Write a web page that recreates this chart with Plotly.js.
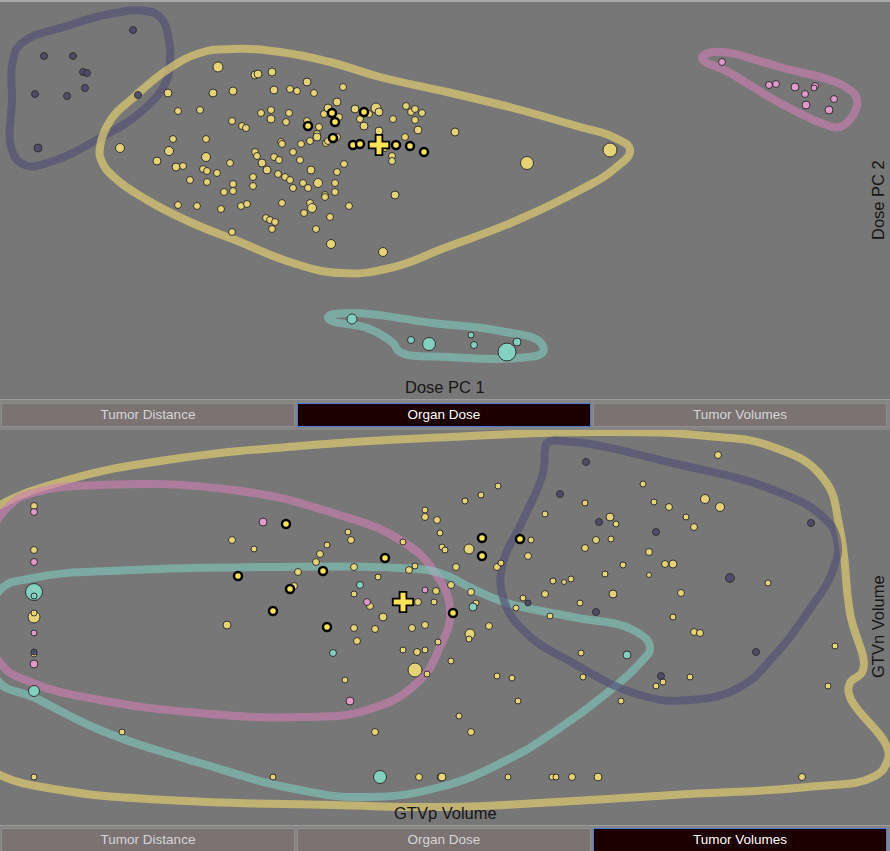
<!DOCTYPE html>
<html><head><meta charset="utf-8">
<script src="https://cdn.plot.ly/plotly-3.0.1.min.js"></script>
<style>
body{margin:0;background:#777;width:890px;height:851px;position:relative;overflow:hidden;font-family:"Liberation Sans",Arial,sans-serif}
#topline{position:absolute;left:0;top:0;width:890px;height:2px;background:#a8a8a8}
#p1{position:absolute;left:0;top:2px;width:890px;height:397px}
#p2{position:absolute;left:0;top:430px;width:890px;height:395px}
.row{position:absolute;left:0;width:890px;background:#858585;border-top:1px solid #9c9c9c;box-sizing:border-box}
.btn{position:absolute;width:292px;height:22px;line-height:22px;text-align:center;font-size:13.5px;color:#d6d6d6;background:#7b7272;border:1px solid #948d8d}
.btn.sel{background:#1c0000;color:#ffffff;border:1px solid #4a7ad8}
</style></head>
<body>
<div id="topline"></div>
<div id="p1"></div>
<div class="row" style="top:399px;height:31px">
  <div class="btn" style="left:1px;top:3px">Tumor Distance</div>
  <div class="btn sel" style="left:297px;top:3px">Organ Dose</div>
  <div class="btn" style="left:593px;top:3px">Tumor Volumes</div>
</div>
<div id="p2"></div>
<div class="row" style="top:825px;height:26px">
  <div class="btn" style="left:1px;top:2px">Tumor Distance</div>
  <div class="btn" style="left:297px;top:2px">Organ Dose</div>
  <div class="btn sel" style="left:593px;top:2px">Tumor Volumes</div>
</div>
<script>
// ---------- Panel 1: Dose PC 1 vs Dose PC 2 ----------
const doseYellowX = [218,168,213,233,255,258,272,274,178,200, 232,242,246,261,271,271,120,173,206,169, 206,157,176,183,203,207,217,230,255,257, 262,253,253,267,274,279,278,190,207,233, 233,224,
  307,290,297,314,343,337,289,286,307,319, 324,328,339,355,369,376,379,360,364,379, 393,406,411,415,422,415,418,405,455,317, 317,337,326,328,310,301,281,282,293,300, 385,392,392,527,610,344,337,311,285,290, 293,303,308,318,335,335,325,325,395,349, 282,310,312,304,330,316,331,383,
  178,197,221,241,247,266,270,275,272,232];
const doseYellowY = [67,93,93,91,75,74,72,90,111,110, 121,126,128,113,110,119,148,139,139,151, 157,161,167,166,169,171,173,163,152,156, 163,177,186,170,157,160,174,180,182,184, 191,192,
  82,89,91,93,87,102,113,122,121,127, 114,108,117,109,114,108,112,119,126,131, 119,106,112,109,113,120,130,137,132,134, 137,137,143,141,141,144,142,144,152,160, 149,156,161,163,150,164,172,170,177,180, 188,183,188,183,183,192,195,197,195,206, 203,203,208,213,217,229,244,252,
  205,206,209,206,204,218,220,222,229,232];
const doseYellowVol = [10,8,8,8,8,8,8,8,7,7, 7,7,7,7,7,8,9,7,7,9, 9,8,8,7,7,7,7,7,7,7, 8,7,7,8,7,7,7,7,7,7, 7,7,
  8,7,7,7,7,8,7,7,7,7, 7,8,7,8,7,10,8,7,8,8, 7,7,7,7,7,7,8,7,8,7, 8,7,7,7,7,7,7,7,7,7, 5,7,7,13,14,7,7,8,7,7, 7,7,7,9,7,7,7,7,8,7, 7,7,9,7,7,7,9,9,
  7,7,7,7,7,7,7,7,7,7];
const doseHighX = [308,332,335,364,333,353,360,396,410,424];
const doseHighY = [126,113,122,112,138,145,144,145,146,152];
const doseCenterX = [379], doseCenterY = [145];
const doseDarkX = [133,44,73,83,87,85,35,67,138,38];
const doseDarkY = [30,56,56,72,73,88,94,96,95,148];
const doseDarkVol = [7,7,7,7,7,7,7,7,7,8];
const dosePinkX = [722,769,776,795,805,815,814,806,829,834];
const dosePinkY = [62,85,84,87,94,86,88,105,110,99];
const dosePinkVol = [7,7,7,8,7,7,6,8,8,7];
const doseTealX = [352,411,429,471,474,507,517];
const doseTealY = [319,340,344,335,345,352,342];
const doseTealVol = [10,7,13,6,7,18,8];
// cluster outlines (Dose PC space)
const doseHullDarkX = [13,22,67,110,145,160,169,170,166,143,100,50,25,12,12];
const doseHullDarkY = [60,43,26,14,11,17,40,60,82,110,138,162,165,150,100];
const doseHullYellowX = [100,112,133,167,200,233,280,330,380,447,513,580,613,630,613,580,513,447,390,340,290,240,190,147,115,102];
const doseHullYellowY = [147,118,98,70,53,49,52,62,77,92,108,127,137,150,170,190,222,247,268,273,262,242,222,200,178,162];
const doseHullPinkX = [702,713,780,847,857,853,840,827,780,730];
const doseHullPinkY = [58,52,67,88,100,115,127,125,103,73];
const doseHullTealX = [328,350,433,500,540,543,517,450,400,393,367,332];
const doseHullTealY = [317,313,323,331,342,352,358,357,352,343,328,321];

// ---------- Panel 2: GTVp Volume vs GTVn Volume ----------
const volYellowX = [34,34,34,34,34,34,34,
  232,254,298,294,227,316,320,327,348,351, 354,354,370,378,383,354,375,357,345,375, 122,273,419,441,418,434,436,412,425,438, 403,417,425,415,427,403,409,415,425,425, 437,440,442,445,
  718,498,481,465,643,585,545,610,616,654, 669,705,720,686,694,531,469,528,596,611, 585,649,456,497,501,623,665,673,605,649, 768,553,564,571,451,471,545,613,681,476, 523,516,580,550,673,489,470,469,694,700, 581,835,451,497,512,583,663,656,690,828, 518,621,459,471,442,508,552,556,572,598, 802];
const volYellowY = [506,550,589,617,613,654,777,
  540,549,572,586,625,562,554,545,532,540, 567,594,606,577,617,628,629,641,680,732, 732,777,777,777,602,602,591,628,625,642, 650,652,650,670,674,542,570,566,510,517, 520,533,547,550,
  455,486,495,501,484,503,514,517,524,502, 507,499,507,517,527,540,549,556,540,539, 548,552,567,567,563,565,564,564,574,575, 583,581,582,579,585,592,594,594,593,603, 598,608,603,616,617,626,634,639,632,633, 653,646,661,676,678,677,682,686,677,686, 701,701,716,732,777,777,777,777,777,777, 777];
const volYellowVol = [7,7,6,12,6,6,6,
  7,6,7,7,8,7,7,6,6,7, 7,6,7,6,8,7,7,7,6,7, 6,6,7,8,7,6,7,7,7,6, 6,7,6,14,6,6,7,6,6,7, 7,6,6,6,
  7,6,6,6,6,6,6,8,6,6, 7,9,9,6,7,6,10,7,7,6, 7,7,7,7,6,6,7,8,6,5, 6,6,5,6,7,7,7,8,7,6, 6,6,6,6,6,7,10,6,7,7, 6,6,6,6,6,6,6,6,6,6, 6,6,6,7,8,6,6,6,7,8, 7];
const volHighX = [286,238,290,273,323,385,327,482,520,482,453];
const volHighY = [524,576,589,611,571,558,627,538,539,556,613];
const volCenterX = [403], volCenterY = [602];
const volDarkX = [34,586,560,599,656,811,730,528,596,756,661];
const volDarkY = [652,462,494,522,532,523,578,603,612,652,676];
const volDarkVol = [6,7,7,7,7,7,9,6,7,7,7];
const volPinkX = [34,34,34,34,263,367,425,350];
const volPinkY = [512,562,633,664,522,602,590,701];
const volPinkVol = [7,7,6,8,8,7,6,8];
const volTealX = [34,34,34,360,473,333,627,380];
const volTealY = [592,596,691,585,607,653,655,777];
const volTealVol = [17,6,11,7,8,7,8,13];
// cluster outlines (volume space)
const volHullYellowX = [-20,0,67,167,300,450,600,707,773,823,840,850,863,850,850,887,887,873,807,673,540,450,333,167,60,0,-20];
const volHullYellowY = [520,505,480,460,446,437,432,436,447,478,530,613,670,683,697,747,762,777,787,795,803,807,805,800,790,775,760];
const volHullPinkX = [-10,10,33,100,233,333,400,433,450,440,417,367,300,200,100,33,0,-12];
const volHullPinkY = [540,505,493,485,490,513,540,570,610,647,683,710,717,713,700,683,663,620];
const volHullTealX = [-10,0,33,133,267,400,440,473,507,573,633,650,640,607,557,507,440,367,300,200,100,33,0,-12];
const volHullTealY = [620,590,578,570,567,568,573,589,603,617,630,647,663,693,730,760,787,797,790,763,730,697,683,655];
const volHullDarkX = [547,573,673,773,823,837,833,807,773,740,690,640,573,523,503,503,523,543,545];
const volHullDarkY = [443,442,463,490,517,540,570,613,657,687,700,695,663,630,597,563,520,473,450];

// ---------- styles ----------
const COL = {
  yellow: {pt:'#ecd878', hull:'rgba(222,204,112,0.7)'},
  dark:   {pt:'#4c4a6a', hull:'rgba(80,78,116,0.62)'},
  pink:   {pt:'#e89ad0', hull:'rgba(210,128,184,0.6)'},
  teal:   {pt:'#84d4c4', hull:'rgba(128,204,190,0.6)'}
};
function close(a){ return a.concat([a[0]]); }
function hull(xs, ys, col){
  return {type:'scatter', mode:'lines', x:close(xs), y:close(ys), hoverinfo:'skip',
    line:{color:col, width:8, shape:'spline', smoothing:1.3}};
}
function pts(xs, ys, vol, col){
  return {type:'scatter', mode:'markers', x:xs, y:ys, hoverinfo:'skip', cliponaxis:true,
    marker:{color:col, size:vol, opacity:0.95, line:{color:'#2e2e2e', width:1}}};
}
function high(xs, ys){
  return {type:'scatter', mode:'markers', x:xs, y:ys, hoverinfo:'skip',
    marker:{color:'#ffe45a', size:8, line:{color:'#000000', width:2.5}}};
}
function center(xs, ys){
  return {type:'scatter', mode:'markers', x:xs, y:ys, hoverinfo:'skip',
    marker:{symbol:'cross', color:'#ffe45a', size:17, line:{color:'#000000', width:1.8}}};
}
const FONT = {family:'"Liberation Sans", Arial, sans-serif', size:16.5, color:'#161616'};
function baseLayout(h, yr, xt, yt, xty, yty){
  return {width:890, height:h, margin:{l:0,r:0,t:0,b:0},
    paper_bgcolor:'#777777', plot_bgcolor:'#777777', showlegend:false, hovermode:false,
    xaxis:{range:[0,890], visible:false, fixedrange:true},
    yaxis:{range:yr, visible:false, fixedrange:true},
    annotations:[
      {x:445, y:xty, xref:'x', yref:'y', text:xt, showarrow:false, font:FONT},
      {x:878, y:yty, xref:'x', yref:'y', text:yt, showarrow:false, textangle:-90, font:FONT}
    ]};
}
const cfg = {staticPlot:true, displayModeBar:false};

const data1 = [
  hull(doseHullDarkX, doseHullDarkY, COL.dark.hull),
  hull(doseHullYellowX, doseHullYellowY, COL.yellow.hull),
  hull(doseHullPinkX, doseHullPinkY, COL.pink.hull),
  hull(doseHullTealX, doseHullTealY, COL.teal.hull),
  pts(doseDarkX, doseDarkY, doseDarkVol, COL.dark.pt),
  pts(doseYellowX, doseYellowY, doseYellowVol, COL.yellow.pt),
  pts(dosePinkX, dosePinkY, dosePinkVol, COL.pink.pt),
  pts(doseTealX, doseTealY, doseTealVol, COL.teal.pt),
  high(doseHighX, doseHighY),
  center(doseCenterX, doseCenterY)
];
Plotly.newPlot('p1', data1, baseLayout(397, [399,2], 'Dose PC 1', 'Dose PC 2', 387, 200), cfg);

const data2 = [
  hull(volHullYellowX, volHullYellowY, COL.yellow.hull),
  hull(volHullPinkX, volHullPinkY, COL.pink.hull),
  hull(volHullTealX, volHullTealY, COL.teal.hull),
  hull(volHullDarkX, volHullDarkY, COL.dark.hull),
  pts(volYellowX, volYellowY, volYellowVol, COL.yellow.pt),
  pts(volDarkX, volDarkY, volDarkVol, COL.dark.pt),
  pts(volPinkX, volPinkY, volPinkVol, COL.pink.pt),
  pts(volTealX, volTealY, volTealVol, COL.teal.pt),
  high(volHighX, volHighY),
  center(volCenterX, volCenterY)
];
Plotly.newPlot('p2', data2, baseLayout(395, [825,430], 'GTVp Volume', 'GTVn Volume', 813, 627), cfg);
</script>
</body></html>
